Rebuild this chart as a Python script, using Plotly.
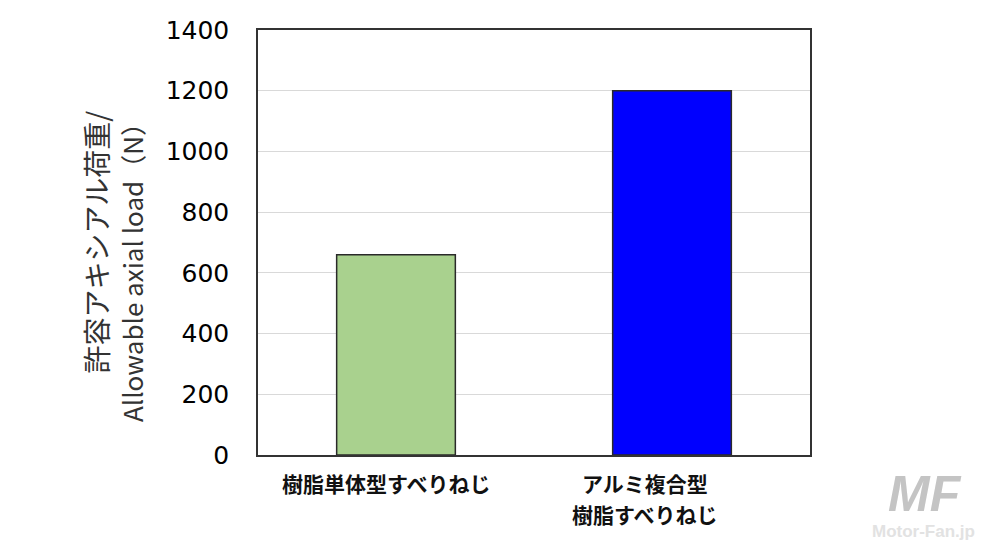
import plotly.graph_objects as go

categories = ["樹脂単体型すべりねじ", "アルミ複合型 樹脂すべりねじ"]
label_lines = [["樹脂単体型すべりねじ"], ["アルミ複合型", "樹脂すべりねじ"]]
values = [660, 1200]
colors = ["#a9d18e", "#0000ff"]
y_ticks = [0, 200, 400, 600, 800, 1000, 1200, 1400]
y_title_lines = ["許容アキシアル荷重/", "Allowable axial load（N）"]

OFF = 8  # browser default body margin
W, H = 996 - OFF, 556 - OFF
# plot area in screen pixels: x 258..810, y 30..455
L, T = 258 - OFF, 30 - OFF
R = W - (810 - OFF)
B = H - (455 - OFF)
pw, ph = W - L - R, H - T - B


def px(sx):
    return (sx - OFF - L) / pw


def py(sy):
    return (H - B - (sy - OFF)) / ph


fig = go.Figure()
fig.add_trace(go.Bar(
    x=categories, y=values,
    marker=dict(color=colors, line=dict(color="#2a2a2a", width=1.5)),
    width=0.43,
))

fig.update_layout(
    width=W, height=H,
    margin=dict(l=L, r=R, t=T, b=B, autoexpand=False),
    plot_bgcolor="white", paper_bgcolor="white",
    showlegend=False,
    font=dict(family="DejaVu Sans, sans-serif", color="#000000"),
)
fig.update_xaxes(
    range=[-0.5, 1.5],
    showline=True, linecolor="#333333", linewidth=1.5, mirror=True,
    showgrid=False, ticks="", showticklabels=False,
)
fig.update_yaxes(
    range=[0, 1400], tickvals=y_ticks,
    showline=True, linecolor="#333333", linewidth=1.5, mirror=True,
    showgrid=True, gridcolor="#d9d9d9", gridwidth=1,
    ticks="", ticklabelstandoff=22,
    tickfont=dict(family="DejaVu Sans, sans-serif", size=25, color="#000000"),
    zeroline=False,
)


def note(text, sx, sy, xanchor="center", yanchor="middle", **kw):
    fig.add_annotation(
        text=text, xref="paper", yref="paper",
        x=px(sx), y=py(sy), xanchor=xanchor, yanchor=yanchor,
        showarrow=False, **kw,
    )


# category labels (positioned as in the reference, below the axis)
label_centers = [386, 645]
for cx, lines in zip(label_centers, label_lines):
    for i, line in enumerate(lines):
        note("<b>" + line + "</b>", cx, 483 + 31 * i,
             font=dict(family="Noto Sans CJK JP", size=21, color="#111111"))

# y-axis title: two rotated lines, both ending at the same top position
for sx, line, size in zip([96, 131], y_title_lines, [28, 26]):
    note(line, sx, 108, yanchor="top", textangle=-90,
         font=dict(family="Noto Sans CJK JP", size=size, color="#333333"))

note("<b><i>MF</i></b>", 925, 494,
     font=dict(family="Liberation Sans", size=50, color="#c4c4c4"))
note("<b>Motor-Fan.jp</b>", 923, 531,
     font=dict(family="Liberation Sans", size=17, color="#e2e2e2"))

fig.write_html("out.html")
